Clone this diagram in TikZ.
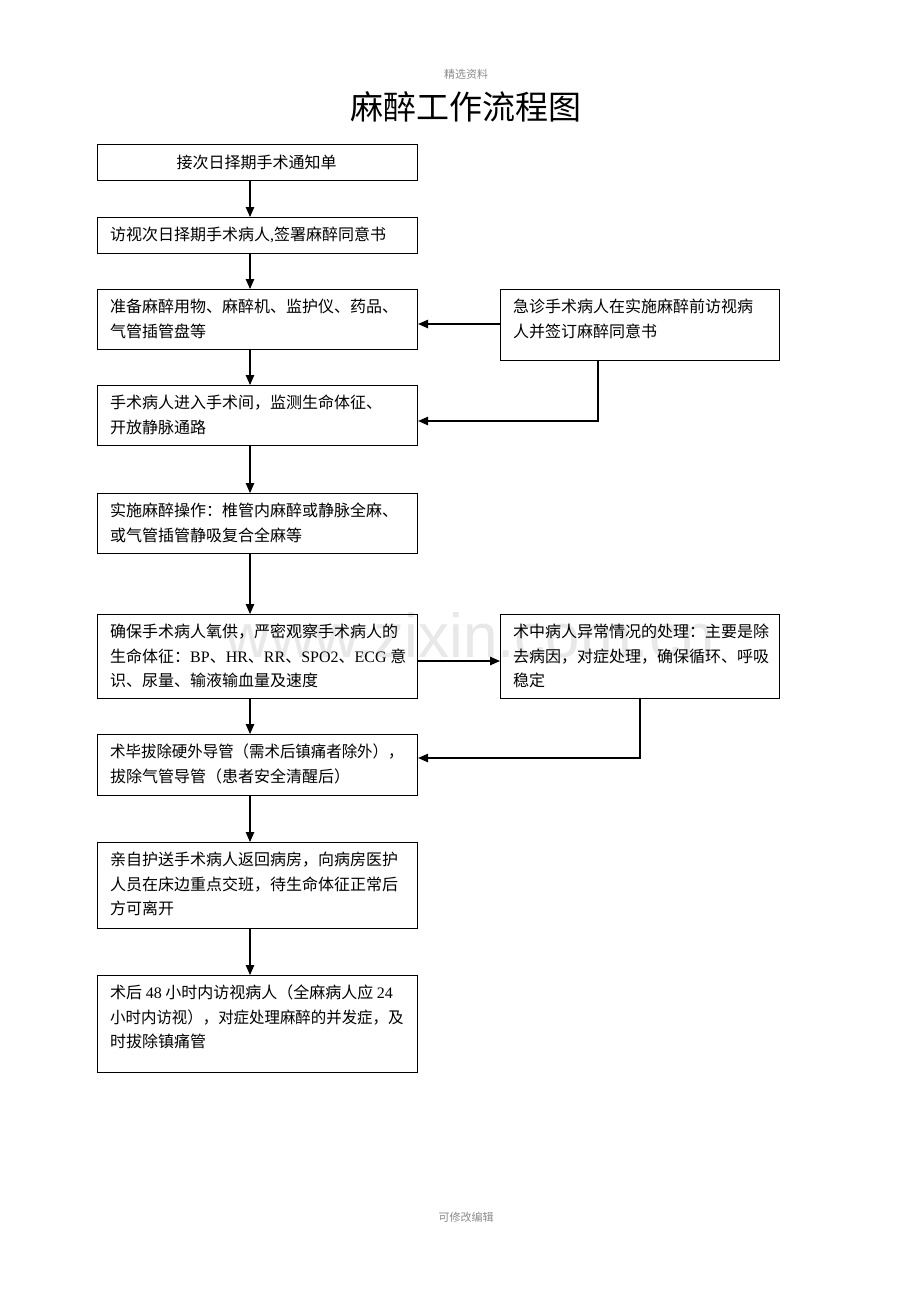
\documentclass[tikz,border=0pt]{standalone}
\usepackage{fontspec}
\setmainfont{Noto Sans CJK SC}
\newfontfamily\latf{Liberation Serif}
\newfontfamily\wmf{Liberation Sans}
\usetikzlibrary{arrows.meta,calc}
\newcommand{\la}[1]{{\latf #1}}
\newcommand{\sq}[1]{\scalebox{0.965}[1]{#1}}
\begin{document}
\begin{tikzpicture}[x=1pt,y=-1pt,
  boxst/.style={draw,line width=1.1pt,rectangle,inner sep=0pt,anchor=north west},
  txt/.style={anchor=north west,inner sep=0pt,align=left,font=\fontsize{16}{24.5}\selectfont},
  arr/.style={line width=1.1pt,-{Triangle[length=10pt,width=8.5pt]}}]
\useasboundingbox (0,0) rectangle (920,1302);
\fill[white] (0,0) rectangle (920,1302);
% watermark
\node[text=black!9,font=\wmf\fontsize{62}{62}\selectfont,inner sep=0pt] (wm) at (470,635) {www.zixin.com.cn};
% header/title/footer
\node[text=black!45,font=\fontsize{11}{11}\selectfont,inner sep=0pt] (hd) at (466,74) {精选资料};
\node[font=\fontsize{33}{33}\selectfont,inner sep=0pt] (title) at (466,107) {麻醉工作流程图};
\node[text=black!45,font=\fontsize{11}{11}\selectfont,inner sep=0pt] (ft) at (466,1217) {可修改编辑};
% boxes
\node[boxst,minimum width=320,minimum height=36] (b1) at (97,144) {};
\node[boxst,minimum width=320,minimum height=36] (b2) at (97,217) {};
\node[boxst,minimum width=320,minimum height=60] (b3) at (97,289) {};
\node[boxst,minimum width=279,minimum height=71] (r1) at (500,289) {};
\node[boxst,minimum width=320,minimum height=60] (b4) at (97,385) {};
\node[boxst,minimum width=320,minimum height=60] (b5) at (97,493) {};
\node[boxst,minimum width=320,minimum height=84] (b6) at (97,614) {};
\node[boxst,minimum width=279,minimum height=84] (r2) at (500,614) {};
\node[boxst,minimum width=320,minimum height=61] (b7) at (97,734) {};
\node[boxst,minimum width=320,minimum height=86] (b8) at (97,842) {};
\node[boxst,minimum width=320,minimum height=97] (b9) at (97,975) {};
% texts
\node[inner sep=0pt,font=\fontsize{16}{24.5}\selectfont] (t1) at ($(b1.center)+(-1,0)$) {接次日择期手术通知单};
\node[txt] (t2) at ($(b2.north west)+(13,10)$) {访视次日择期手术病人\la{,}签署麻醉同意书};
\node[txt] (t3) at ($(b3.north west)+(13,10)$) {准备麻醉用物、麻醉机、监护仪、药品、\\气管插管盘等};
\node[txt] (tr1) at ($(r1.north west)+(13,10)$) {急诊手术病人在实施麻醉前访视病\\人并签订麻醉同意书};
\node[txt] (t4) at ($(b4.north west)+(13,10)$) {手术病人进入手术间，监测生命体征、\\开放静脉通路};
\node[txt] (t5) at ($(b5.north west)+(13,10)$) {实施麻醉操作：椎管内麻醉或静脉全麻、\\或气管插管静吸复合全麻等};
\node[txt] (t6) at ($(b6.north west)+(13,10)$) {确保手术病人氧供，严密观察手术病人的\\生命体征：\la{BP}、\la{HR}、\la{RR}、\la{SPO2}、\la{ECG} 意\\识、尿量、输液输血量及速度};
\node[txt] (tr2) at ($(r2.north west)+(13,10)$) {术中病人异常情况的处理：主要是除\\去病因，对症处理，确保循环、呼吸\\稳定};
\node[txt] (t7) at ($(b7.north west)+(13,10)$) {\sq{术毕拔除硬外导管（需术后镇痛者除外），}\\拔除气管导管（患者安全清醒后）};
\node[txt] (t8) at ($(b8.north west)+(13,10)$) {亲自护送手术病人返回病房，向病房医护\\人员在床边重点交班，待生命体征正常后\\方可离开};
\node[txt] (t9) at ($(b9.north west)+(13,10)$) {术后 \la{48} 小时内访视病人（全麻病人应 \la{24}\\\sq{小时内访视），对症处理麻醉的并发症，及}\\时拔除镇痛管};
% connectors
\draw[arr] (b1.south -| 250,0) -- (b2.north -| 250,0);
\draw[arr] (b2.south -| 250,0) -- (b3.north -| 250,0);
\draw[arr] (b3.south -| 250,0) -- (b4.north -| 250,0);
\draw[arr] (b4.south -| 250,0) -- (b5.north -| 250,0);
\draw[arr] (b5.south -| 250,0) -- (b6.north -| 250,0);
\draw[arr] (b6.south -| 250,0) -- (b7.north -| 250,0);
\draw[arr] (b7.south -| 250,0) -- (b8.north -| 250,0);
\draw[arr] (b8.south -| 250,0) -- (b9.north -| 250,0);
\draw[arr] (r1.west |- 0,324) -- (b3.east |- 0,324);
\draw[arr] (r1.south -| 598,0) |- (b4.east |- 0,421);
\draw[arr] (b6.east |- 0,661) -- (r2.west |- 0,661);
\draw[arr] (r2.south -| 640,0) |- (b7.east |- 0,758);
\end{tikzpicture}
\end{document}
